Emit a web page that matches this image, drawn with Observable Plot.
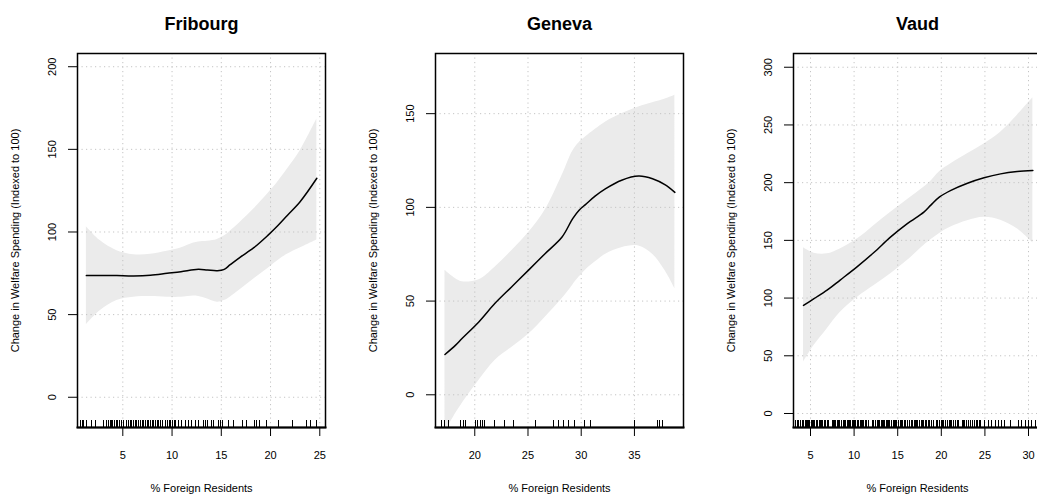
<!DOCTYPE html>
<html><head><meta charset="utf-8">
<script src="https://cdn.jsdelivr.net/npm/d3@7"></script>
<script src="https://cdn.jsdelivr.net/npm/@observablehq/plot@0.6"></script>
<style>
html,body{margin:0;padding:0;background:#fff;overflow:hidden;}
#wrap{position:relative;width:1037px;height:499px;overflow:hidden;background:#fff;}
#wrap svg{position:absolute;top:0;}
</style></head><body><div id="wrap"></div>
<script>
const titles = ["Fribourg", "Geneva", "Vaud"];
const xLabel = "% Foreign Residents";
const yLabel = "Change in Welfare Spending (Indexed to 100)";

// Fribourg
const fribX   = [1.3, 2.7, 4.4, 6.1, 7.8, 9.5, 10.9, 12.2, 12.7, 13.6, 14.6, 15.3, 15.9, 16.9, 18.3, 19.7, 20.7, 21.7, 23.0, 24.7];
const fribFit = [73.6, 73.7, 73.6, 73.4, 73.8, 75.0, 76.0, 77.2, 77.4, 77.0, 76.6, 77.4, 80.2, 84.7, 90.5, 97.8, 103.6, 110.0, 118.3, 132.5];
const fribUp  = [103.2, 94.8, 88.7, 86.3, 86.5, 88.3, 90.3, 93.3, 94.0, 94.4, 95.5, 97.5, 100.5, 105.8, 113.9, 123.0, 130.0, 138.0, 149.0, 168.3];
const fribLo  = [44.0, 52.4, 58.5, 60.5, 60.9, 60.5, 60.5, 61.3, 61.0, 59.5, 57.5, 58.5, 60.5, 65.0, 71.5, 77.8, 82.5, 86.5, 90.3, 95.2];
const fribRug = [0.7, 0.9, 1.0, 1.3, 1.8, 2.2, 3.0, 3.3, 3.5, 3.7, 3.9, 4.0, 4.2, 4.4, 4.5, 4.7, 4.9, 5.1, 5.4, 5.6, 5.8, 5.9, 6.1, 6.3, 6.4, 6.6, 6.8, 7.0, 7.1, 7.3, 7.5, 7.6, 7.8, 8.0, 8.1, 8.3, 8.5, 8.6, 8.8, 9.0, 9.3, 9.5, 9.7, 9.8, 10.0, 10.2, 10.3, 10.7, 11.0, 11.4, 11.7, 12.0, 12.4, 12.7, 13.2, 13.4, 13.6, 14.0, 14.2, 14.7, 14.9, 15.1, 15.7, 16.2, 17.2, 17.6, 18.4, 18.6, 18.9, 19.6, 20.8, 22.2, 23.7, 24.1, 24.7];
const fribXTicks = [5, 10, 15, 20, 25];
const fribYTicks = [0, 50, 100, 150, 200];

// Geneva
const genX   = [17.2, 18.2, 18.8, 20.4, 21.9, 23.5, 25.1, 26.6, 28.2, 29.2, 29.8, 30.4, 31.3, 32.3, 33.8, 35.4, 36.7, 37.9, 38.8];
const genFit = [21.5, 26.5, 30.0, 39.0, 48.8, 57.8, 66.8, 75.3, 84.2, 94.0, 98.5, 101.5, 106.0, 110.0, 114.5, 116.7, 115.3, 112.0, 108.0];
const genUp  = [66.4, 61.9, 60.3, 61.4, 68.1, 77.0, 86.8, 98.4, 117.0, 130.0, 134.5, 137.5, 141.5, 145.6, 150.0, 153.6, 155.8, 157.8, 159.8];
const genLo  = [-20.0, -10.0, -4.8, 7.7, 18.3, 25.4, 32.6, 41.3, 51.2, 58.5, 62.8, 66.5, 70.8, 75.0, 78.5, 79.4, 75.0, 66.0, 56.6];
const genRug = [16.9, 17.2, 17.5, 18.7, 18.9, 19.1, 20.1, 20.3, 20.5, 20.7, 20.9, 21.9, 22.8, 23.6, 25.7, 27.4, 27.9, 28.3, 28.8, 29.4, 30.3, 30.9, 35.0, 37.2, 37.4, 37.6];
const genXTicks = [20, 25, 30, 35];
const genYTicks = [0, 50, 100, 150];

// Vaud
const vaudX   = [4.2, 5.4, 6.9, 8.4, 10.4, 12.3, 14.2, 16.1, 18.0, 18.8, 19.8, 21.1, 23.0, 24.9, 26.8, 28.7, 30.5];
const vaudFit = [93.6, 99.5, 106.8, 115.6, 127.5, 139.7, 153.0, 164.5, 174.5, 180.5, 187.6, 193.3, 199.5, 204.2, 207.6, 209.6, 210.5];
const vaudUp  = [143.5, 138.9, 138.3, 142.6, 151.3, 162.9, 174.4, 185.1, 196.0, 201.3, 209.5, 216.3, 225.0, 233.6, 243.7, 258.2, 273.5];
const vaudLo  = [44.5, 58.9, 73.3, 87.5, 100.8, 110.9, 121.0, 132.5, 145.5, 150.5, 156.0, 161.5, 167.0, 170.1, 167.5, 160.0, 147.8];
const vaudRug = [3.3, 3.5, 3.6, 3.8, 3.9, 4.1, 4.2, 4.4, 4.5, 4.7, 4.8, 4.9, 5.1, 5.2, 5.4, 5.5, 5.7, 5.8, 6.0, 6.1, 6.3, 6.4, 6.6, 6.7, 6.9, 7.0, 7.1,
  7.5, 7.6, 7.8, 7.9, 8.1, 8.2, 8.3, 8.5, 8.6, 8.8, 8.9, 9.0, 9.2, 9.3, 9.5, 9.6, 9.8, 9.9, 10.1, 10.2, 10.4, 10.5, 10.7, 10.8, 11.0, 11.1, 11.3, 11.4, 11.6, 11.7,
  12.1, 12.2, 12.4, 12.5, 12.7, 12.8, 12.9, 13.1, 13.2, 13.4, 13.5, 13.7, 13.8, 14.0, 14.1, 14.3, 14.5, 14.6, 14.8, 14.9, 15.1, 15.3, 15.4, 15.6, 15.8, 15.9, 16.1, 16.3,
  16.6, 16.7, 16.9, 17.0, 17.2, 17.3, 17.5, 17.7, 17.8, 18.0, 18.2, 18.3, 18.5, 18.7, 18.9, 19.1,
  19.5, 19.6, 19.8, 20.0, 20.1, 20.3, 20.5, 20.7, 20.9, 21.0, 21.2, 21.4, 21.6, 21.8, 22.0,
  22.4, 22.5, 22.7, 22.9, 23.1, 23.3, 23.4, 23.6, 23.8, 24.0, 24.2, 24.4, 24.5,
  25.0, 25.4, 25.8, 26.2, 26.6, 26.9, 27.3, 27.9, 28.9, 29.2, 29.6, 30.0, 30.4, 30.8];
const vaudXTicks = [5, 10, 15, 20, 25, 30];
const vaudYTicks = [0, 50, 100, 150, 200, 250, 300];

const FONT = '"Liberation Sans", Arial, Helvetica, sans-serif';
const MT = 53, MB = 72, H = 499;
const FH = H - MT - MB;

function panel(o) {
  const rows = o.xs.map((x, i) => ({x, fit: o.fit[i], up: o.up[i], lo: o.lo[i]}));
  const grid = {stroke: "#c4c4c4", strokeOpacity: 1, strokeWidth: 1, strokeDasharray: "1.2,3.3"};
  const svg = Plot.plot({
    width: o.width, height: H,
    marginLeft: o.ml, marginRight: o.mr, marginTop: MT, marginBottom: MB,
    style: {fontFamily: FONT, fontSize: "11px", background: "transparent", color: "black"},
    x: {domain: o.xd}, y: {domain: o.yd},
    marks: [
      Plot.areaY(rows, {x: "x", y1: "lo", y2: "up", fill: "#ebebeb", curve: "catmull-rom", clip: true}),
      Plot.gridX(o.xt, grid),
      Plot.gridY(o.yt, grid),
      Plot.line(rows, {x: "x", y: "fit", stroke: "black", strokeWidth: 1.5, curve: "catmull-rom", clip: true}),
      Plot.tickX(o.rug, {x: d => d, stroke: "black", strokeWidth: 1, insetTop: FH - 7, shapeRendering: "crispEdges"}),
      Plot.frame({stroke: "black", strokeWidth: 1.5}),
      Plot.frame({anchor: "bottom", stroke: "black", strokeWidth: 2}),
      Plot.axisX(o.xt, {tickSize: 9, tickPadding: 15, fontSize: 11, label: null}),
      Plot.axisY(o.yt, {tickSize: 9, tickFormat: () => "", label: null}),
      Plot.text(o.yt, {y: d => d, text: d => String(d), frameAnchor: "left", dx: -25, rotate: -90, textAnchor: "middle", fontSize: 11, fill: "black"}),
      Plot.text([o.title], {text: d => d, frameAnchor: "top", dy: -36, fontSize: 18, fontWeight: "bold", fill: "black"}),
      Plot.text([xLabel], {text: d => d, frameAnchor: "bottom", dy: 64, fontSize: 11, fill: "black"}),
      Plot.text([yLabel], {text: d => d, frameAnchor: "left", dx: -62, rotate: -90, textAnchor: "middle", fontSize: 11, fill: "black"})
    ]
  });
  svg.style.left = o.left + "px";
  document.getElementById("wrap").appendChild(svg);
}

panel({left: 0, width: 345, ml: 77, mr: 20, xd: [0.4, 25.58], yd: [-18.3, 208.0],
  xt: fribXTicks, yt: fribYTicks, xs: fribX, fit: fribFit, up: fribUp, lo: fribLo, rug: fribRug, title: titles[0]});
panel({left: 345, width: 345, ml: 90, mr: 7, xd: [16.31, 39.61], yd: [-17.45, 182.1],
  xt: genXTicks, yt: genYTicks, xs: genX, fit: genFit, up: genUp, lo: genLo, rug: genRug, title: titles[1]});
panel({left: 690, width: 360, ml: 103, mr: 9, xd: [3.05, 31.49], yd: [-12.13, 311.9],
  xt: vaudXTicks, yt: vaudYTicks, xs: vaudX, fit: vaudFit, up: vaudUp, lo: vaudLo, rug: vaudRug, title: titles[2]});
</script>
</body></html>
